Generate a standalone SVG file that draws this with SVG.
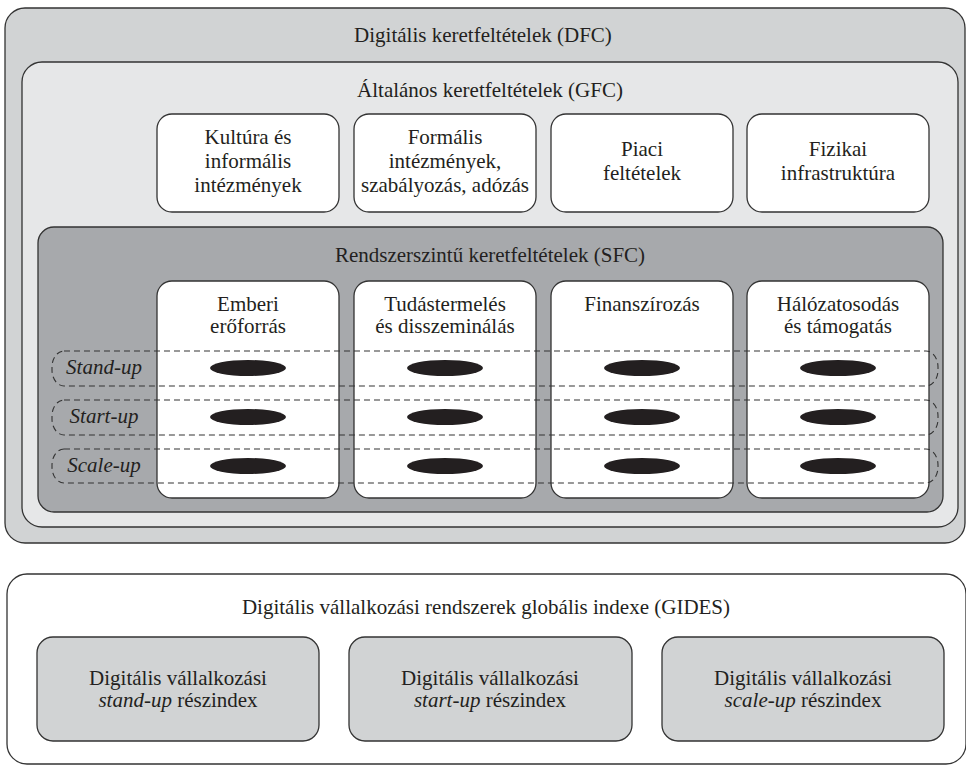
<svg xmlns="http://www.w3.org/2000/svg" width="966" height="765" viewBox="0 0 966 765">
<style>
.b{stroke:#333;stroke-width:1.3}
.t{font-family:"Liberation Serif","DejaVu Serif",serif;font-size:21px;fill:#231f20;text-anchor:middle}
.i{font-style:italic}
.d{fill:none;stroke:#333;stroke-width:1.1;stroke-dasharray:6,4}
.e{fill:#231f20}
</style>
<rect width="966" height="765" fill="#fff"/>
<g id="dfc">
<rect class="b" x="5" y="8" width="960" height="535" rx="20" fill="#d1d3d4"/>
<text class="t" x="483" y="42">Digitális keretfeltételek (DFC)</text>
</g>
<g id="gfc">
<rect class="b" x="22" y="62" width="936" height="465" rx="20" fill="#e6e7e8"/>
<text class="t" x="490" y="97">Általános keretfeltételek (GFC)</text>
</g>
<g id="g1"><rect class="b" x="157" y="114" width="182" height="98" rx="15" fill="#fff"/>
<text class="t" x="248" y="144">Kultúra és</text><text class="t" x="248" y="168">informális</text><text class="t" x="248" y="192">intézmények</text></g>
<g id="g2"><rect class="b" x="354" y="114" width="182" height="98" rx="15" fill="#fff"/>
<text class="t" x="445" y="144">Formális</text><text class="t" x="445" y="168">intézmények,</text><text class="t" x="445" y="192">szabályozás, adózás</text></g>
<g id="g3"><rect class="b" x="551" y="114" width="182" height="98" rx="15" fill="#fff"/>
<text class="t" x="642" y="156">Piaci</text><text class="t" x="642" y="180">feltételek</text></g>
<g id="g4"><rect class="b" x="747" y="114" width="182" height="98" rx="15" fill="#fff"/>
<text class="t" x="838" y="156">Fizikai</text><text class="t" x="838" y="180">infrastruktúra</text></g>
<g id="sfc">
<rect class="b" x="38" y="227" width="905" height="285" rx="16" fill="#a7a9ac"/>
<text class="t" x="490" y="262">Rendszerszintű keretfeltételek (SFC)</text>
</g>
<g id="s1"><rect class="b" x="157" y="281" width="182" height="217" rx="15" fill="#fff"/>
<text class="t" x="248" y="311">Emberi</text><text class="t" x="248" y="333">erőforrás</text></g>
<g id="s2"><rect class="b" x="354" y="281" width="182" height="217" rx="15" fill="#fff"/>
<text class="t" x="445" y="311">Tudástermelés</text><text class="t" x="445" y="333">és disszeminálás</text></g>
<g id="s3"><rect class="b" x="551" y="281" width="182" height="217" rx="15" fill="#fff"/>
<text class="t" x="642" y="311">Finanszírozás</text></g>
<g id="s4"><rect class="b" x="747" y="281" width="182" height="217" rx="15" fill="#fff"/>
<text class="t" x="838" y="311">Hálózatosodás</text><text class="t" x="838" y="333">és támogatás</text></g>
<g id="rows">
<g id="standup"><rect class="d" x="52" y="351" width="886" height="35" rx="12" ry="16"/>
<text class="t i" x="104" y="374">Stand-up</text>
<ellipse class="e" cx="248" cy="368" rx="38" ry="8"/><ellipse class="e" cx="445" cy="368" rx="38" ry="8"/><ellipse class="e" cx="642" cy="368" rx="38" ry="8"/><ellipse class="e" cx="838" cy="368" rx="38" ry="8"/></g>
<g id="startup"><rect class="d" x="52" y="400" width="886" height="35" rx="12" ry="16"/>
<text class="t i" x="104" y="423">Start-up</text>
<ellipse class="e" cx="248" cy="417" rx="38" ry="8"/><ellipse class="e" cx="445" cy="417" rx="38" ry="8"/><ellipse class="e" cx="642" cy="417" rx="38" ry="8"/><ellipse class="e" cx="838" cy="417" rx="38" ry="8"/></g>
<g id="scaleup"><rect class="d" x="52" y="449" width="886" height="34" rx="12" ry="16"/>
<text class="t i" x="104" y="472">Scale-up</text>
<ellipse class="e" cx="248" cy="466" rx="38" ry="8"/><ellipse class="e" cx="445" cy="466" rx="38" ry="8"/><ellipse class="e" cx="642" cy="466" rx="38" ry="8"/><ellipse class="e" cx="838" cy="466" rx="38" ry="8"/></g>
</g>
<g id="gides">
<rect class="b" x="7" y="574" width="959" height="190" rx="20" fill="#fff"/>
<text class="t" x="486" y="614">Digitális vállalkozási rendszerek globális indexe (GIDES)</text>
</g>
<g id="i1"><rect class="b" x="37" y="637" width="282" height="104" rx="16" fill="#d1d3d4"/>
<text class="t" x="178" y="685">Digitális vállalkozási</text><text class="t" x="178" y="707"><tspan class="i">stand-up</tspan> részindex</text></g>
<g id="i2"><rect class="b" x="349" y="637" width="283" height="104" rx="16" fill="#d1d3d4"/>
<text class="t" x="490" y="685">Digitális vállalkozási</text><text class="t" x="490" y="707"><tspan class="i">start-up</tspan> részindex</text></g>
<g id="i3"><rect class="b" x="662" y="637" width="282" height="104" rx="16" fill="#d1d3d4"/>
<text class="t" x="803" y="685">Digitális vállalkozási</text><text class="t" x="803" y="707"><tspan class="i">scale-up</tspan> részindex</text></g>
<g id="connectors"></g>
</svg>
